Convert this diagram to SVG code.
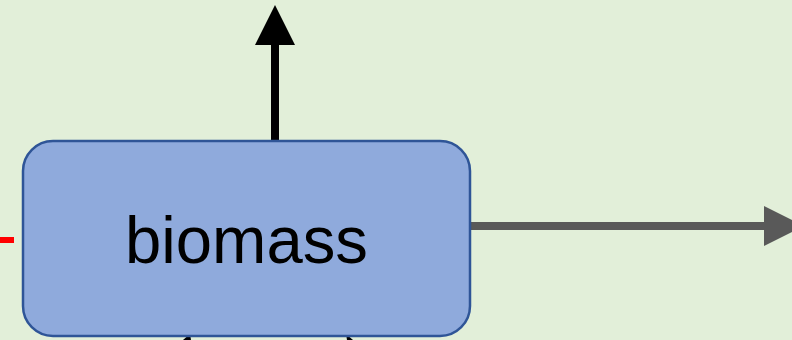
<svg xmlns="http://www.w3.org/2000/svg" width="792" height="340" viewBox="0 0 792 340">
  <style>
    .node-box { fill: #8FAADC; stroke: #2F5597; stroke-width: 2.5; }
    .label { font-family: "Liberation Sans", Arial, sans-serif; font-size: 66px; fill: #000000; }
  </style>
  <defs>
    <marker id="head-black" viewBox="0 0 10 10" refX="0" refY="5" markerWidth="5" markerHeight="5" markerUnits="strokeWidth" orient="auto">
      <path d="M0,0 L10,5 L0,10 Z" fill="#000000"/>
    </marker>
    <marker id="head-grey" viewBox="0 0 10 10" refX="0" refY="5" markerWidth="5" markerHeight="5" markerUnits="strokeWidth" orient="auto">
      <path d="M0,0 L10,5 L0,10 Z" fill="#595959"/>
    </marker>
  </defs>
  <rect width="792" height="340" fill="#E2EFD9"/>

  <g id="connectors">
    <!-- incoming flow from the left -->
    <line x1="0" y1="240" x2="14" y2="240" stroke="#FF0000" stroke-width="6"/>
    <!-- upward output -->
    <line x1="275" y1="141" x2="275" y2="45" stroke="#000000" stroke-width="8" marker-end="url(#head-black)"/>
    <!-- rightward output -->
    <line x1="470" y1="226" x2="764" y2="226" stroke="#595959" stroke-width="8" marker-end="url(#head-grey)"/>
    <!-- arrow tips arriving from below -->
    <polygon points="183,340 190,334 191,340" fill="#000000"/>
    <polygon points="346,334 353,340 347,340" fill="#000000"/>
  </g>

  <g id="biomass">
    <rect class="node-box" x="23" y="141" width="447" height="195" rx="30" ry="30"/>
    <text class="label" x="246.5" y="263" text-anchor="middle" textLength="243" lengthAdjust="spacingAndGlyphs">biomass</text>
  </g>
</svg>
